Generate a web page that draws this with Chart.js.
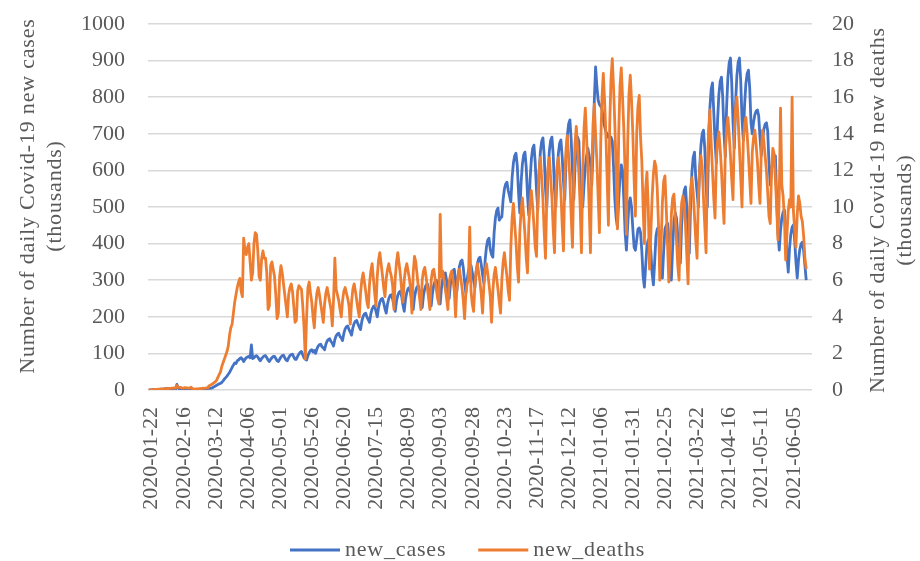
<!DOCTYPE html>
<html>
<head>
<meta charset="utf-8">
<script src="https://cdn.jsdelivr.net/npm/chart.js@4.4.1/dist/chart.umd.min.js"></script>
<style>
  html, body { margin: 0; padding: 0; background: #fff; }
  #wrap { width: 920px; height: 561px; }
</style>
</head>
<body>
<div id="wrap"><canvas id="chart" width="920" height="561"></canvas></div>
<script>
// daily series, first value is 2020-01-22 (thousands)
const startDate = "2020-01-22";
const dayCount = 517;
const labelStep = 25;

const newCases = [
  0.6, 0.1, 0.3, 0.7, 0.8, 0.9, 1.5,
  1.7, 1.9, 2.1, 2.1, 2.6, 3.2, 3.9,
  3.7, 3.2, 3.4, 2.7, 3.0, 2.5, 2.0,
  2.0, 15.1, 6.5, 2.1, 2.0, 2.0, 1.9,
  1.8, 0.5, 0.9, 1.0, 0.6, 0.6, 0.9,
  1.0, 1.3, 1.4, 1.8, 2.2, 1.9, 2.4,
  2.3, 2.8, 3.9, 4.0, 3.9, 4.2, 4.6,
  5, 7, 9, 11, 13, 15, 17,
  18, 21, 25, 30, 34, 38, 43,
  48, 55, 62, 68, 74, 72, 80,
  82, 86, 88, 84, 78, 84, 88,
  90, 92, 88, 123, 86, 88, 92,
  94, 90, 84, 80, 86, 90, 93,
  94, 88, 82, 78, 84, 88, 92,
  92, 86, 80, 78, 84, 90, 94,
  95, 88, 82, 80, 88, 94, 97,
  98, 90, 84, 84, 92, 98, 103,
  105, 96, 88, 84, 82, 94, 102,
  108, 110, 104,
  108, 100, 112, 120, 124, 125, 118,
  115, 110, 125, 134, 138, 140, 132,
  128, 120, 138, 148, 153, 155, 146,
  142, 135, 155, 167, 173, 175, 165,
  158, 150, 170, 182, 188, 190, 180,
  172, 165, 188, 201, 208, 210, 199,
  192, 185, 208, 221, 228, 230,
  215, 200, 225, 240, 248, 250, 238,
  222, 210, 235, 250, 258, 260, 248,
  230, 215, 243, 259, 267, 270, 256,
  232, 215, 248, 267, 277, 280, 264,
  238, 220, 253, 272, 282, 285, 269,
  243, 225, 258, 277, 287, 290, 274,
  248, 230, 265, 286, 297, 300, 283,
  255, 235, 278, 303, 316, 320, 300,
  270, 250, 290, 314, 326, 330,
  295, 270, 312, 338, 351, 355, 334,
  295, 265, 302, 325, 336, 340, 321,
  300, 280, 322, 346, 359, 363, 342,
  315, 292, 354, 390, 409, 415, 384,
  370, 363, 430, 470, 490, 497, 464,
  470, 473, 520, 549, 563, 568, 545,
  530, 514, 580, 620, 640, 647, 614,
  540, 484, 567, 617, 642, 650, 608,
  530, 478, 574, 631, 660, 669, 621,
  545, 492, 590, 650, 679, 689, 640,
  550, 500, 595, 653, 682, 691, 643,
  550, 500, 592, 646, 674, 683, 637,
  570, 520, 629, 694, 727, 738, 684,
  600, 520, 610, 664, 691, 680, 560,
  511, 500, 560, 610, 640, 660, 640,
  620, 560, 650, 790, 883, 830, 792,
  780, 775, 768, 740, 720, 705, 700,
  690, 690, 691, 680, 609, 520, 470,
  445, 520, 580, 615, 600, 520, 430,
  382, 450, 510, 525, 500, 440, 390,
  382, 410, 440, 443, 430, 380, 310,
  281, 340, 395, 410, 415, 380, 320,
  287, 350, 420, 440, 445, 400, 330,
  306, 380, 440, 450, 456, 420, 350,
  300, 390, 460, 484, 470, 420,
  400, 347, 451, 513, 545, 555, 500,
  440, 374, 512, 595, 636, 650, 580,
  540, 500, 605, 668, 700, 710, 660,
  560, 500, 670, 771, 822, 839, 760,
  680, 620, 738, 808, 843, 855, 800,
  700, 637, 772, 853, 894, 907, 840,
  730, 660, 784, 858, 895, 907, 845,
  740, 683, 778, 836, 864, 874, 826,
  730, 700, 732, 752, 762, 765, 749,
  690, 640, 685, 712, 726, 730, 708,
  620, 560, 600, 624, 636, 640, 520,
  430, 382, 437, 470, 486, 492, 440,
  370, 322, 387, 425, 445, 451, 410,
  350, 306, 355, 384, 399, 404, 380,
  340, 300
];

const newDeaths = [
  0.02, 0.01, 0.01, 0.02, 0.02, 0.03, 0.03,
  0.04, 0.04, 0.05, 0.05, 0.06, 0.06, 0.07,
  0.07, 0.07, 0.09, 0.09, 0.1, 0.1, 0.11,
  0.1, 0.25, 0.14, 0.14, 0.14, 0.1, 0.1,
  0.13, 0.12, 0.12, 0.1, 0.1, 0.15, 0.08,
  0.06, 0.04, 0.06, 0.06, 0.06, 0.07, 0.07,
  0.1, 0.09, 0.1, 0.12, 0.11, 0.23, 0.26,
  0.3, 0.35, 0.4, 0.45, 0.55, 0.7, 0.85,
  1.0, 1.3, 1.5, 1.7, 1.9, 2.1, 2.4,
  3.0, 3.4, 3.6, 4.2, 4.8, 5.2, 5.6,
  5.9, 6.1, 5.4, 5.1, 8.3, 7.6, 7.4,
  7.8, 8.0, 7.0, 6.0, 6.4, 8.0, 8.6,
  8.5, 7.6, 6.2, 6.0, 7.2, 7.6, 7.2,
  7.2, 6.4, 4.4, 4.6, 6.8, 7.0, 6.6,
  6.2, 5.2, 3.9, 4.2, 6.2, 6.8, 6.4,
  5.8, 5.2, 4.6, 4.0, 5.2, 5.6, 5.8,
  5.4, 4.6, 3.7, 3.8, 5.4, 5.7, 5.6,
  5.5, 4.6, 3.4, 1.7, 4.0, 5.6, 5.9,
  5.3, 4.8, 4.0,
  3.4, 4.6, 5.3, 5.6, 5.2, 4.7, 4.2,
  3.7, 4.7, 5.3, 5.6, 5.2, 4.8, 4.4,
  3.5, 5.0, 7.2, 5.5, 5.2, 4.9, 4.4,
  4.0, 4.9, 5.4, 5.6, 5.3, 5.0, 4.6,
  3.6, 4.8, 5.5, 5.8, 5.4, 4.9, 4.4,
  4.0, 5.3, 6.0, 6.4, 5.9, 5.4, 4.8,
  4.5, 5.8, 6.5, 6.9, 6.1, 5.3,
  4.6, 6.2, 7.1, 7.5, 6.9, 6.3, 5.6,
  5.1, 6.1, 6.6, 6.9, 6.5, 6.2, 5.7,
  4.4, 6.1, 7.0, 7.5, 6.9, 6.3, 5.5,
  4.8, 6.0, 6.6, 6.9, 6.5, 6.1, 5.5,
  4.2, 6.4, 7.3, 7.0, 6.3, 5.6, 5.0,
  4.4, 6.0, 6.5, 6.7, 6.2, 5.6, 5.0,
  4.4, 6.0, 6.5, 6.6, 6.1, 5.5, 5.0,
  4.7, 9.6, 6.2, 6.5, 6.0, 5.5, 5.0,
  4.4, 5.9, 6.3, 6.5, 6.0, 5.4,
  4.0, 5.6, 6.3, 6.6, 6.1, 5.6, 4.9,
  3.9, 5.3, 5.8, 6.0, 8.9, 5.4, 4.7,
  4.3, 5.7, 6.5, 6.9, 6.4, 5.9, 5.2,
  4.2, 5.7, 6.5, 6.9, 6.4, 5.8, 5.1,
  3.7, 5.4, 6.3, 6.7, 6.1, 5.5, 4.8,
  4.2, 6.0, 7.0, 7.5, 6.8, 6.2, 5.4,
  4.9, 7.8, 9.4, 10.2, 9.1, 8.1, 6.8,
  5.9, 8.6, 9.8, 10.5, 9.5, 8.5, 7.2,
  6.4, 9.0, 10.3, 10.9, 10.0, 9.0, 7.8,
  7.3, 10.5, 12.0, 12.7, 11.6, 10.4, 8.6,
  7.2, 10.5, 12.2, 12.7, 11.6, 10.5, 8.8,
  7.5, 10.8, 12.2, 12.7, 11.8, 10.8, 9.0,
  7.6, 11.5, 13.2, 13.9, 12.8, 11.5, 9.5,
  7.8, 11.5, 13.5, 14.4, 13.2, 11.8, 10.0,
  7.5, 12.0, 14.3, 15.4, 13.8, 12.2, 10.0,
  7.5, 12.0, 14.5, 15.6, 14.0, 12.5, 10.5,
  8.6, 13.5, 16.0, 17.3, 15.8, 14.0, 11.5,
  9.0, 14.5, 17.0, 18.1, 16.5, 14.5, 12.0,
  8.8, 14.0, 16.6, 17.6, 16.0, 14.2, 11.8,
  8.5, 13.5, 16.2, 17.2, 15.8, 14.0, 11.5,
  9.5, 14.0, 15.5, 16.1, 13.8, 12.5, 10.0,
  8.0, 11.0, 11.9, 10.0, 6.6, 8.5, 10.5,
  11.8, 12.5, 12.2, 11.0, 9.0, 6.0,
  8.0, 10.2, 11.4, 11.7, 10.0, 8.0, 5.9,
  7.5, 9.6, 10.5, 10.7, 9.6, 8.2, 6.8,
  6.0, 8.9, 10.2, 10.6, 10.2, 9.0, 7.4,
  5.8, 9.5, 11.0, 11.6, 10.8, 9.5, 8.2,
  7.2, 10.5, 12.0, 12.8, 12.2, 10.5, 9.0,
  7.5, 12.0, 14.2, 15.3, 13.5, 12.0, 10.5,
  9.4, 12.5, 13.6, 14.1, 13.2, 12.0, 10.5,
  9.1, 13.0, 14.3, 14.9, 14.0, 12.8, 11.5,
  10.4, 14.0, 15.4, 16.0, 14.8, 13.2, 11.6,
  10.0, 13.5, 14.5, 14.9, 14.0, 12.8, 11.5,
  10.2, 13.0, 13.8, 14.2, 13.4, 12.5, 11.2,
  10.2, 13.0, 14.2, 13.6, 12.8, 12.0, 10.8,
  9.5, 9.1, 12.0, 13.2, 12.9, 11.5, 10.0,
  8.2, 10.6, 15.4, 11.2, 10.6, 9.4, 7.1,
  8.5, 9.8, 10.4, 10.0, 16.0, 9.8, 8.8,
  7.8, 9.6, 10.6, 10.2, 9.5, 9.2, 8.4,
  7.2, 6.6
];

const seriesNames = ["new_cases", "new_deaths"];
const seriesColors = ["#4472C4", "#ED7D31"];
const leftTitle = ["Number of daily Covid-19 new cases", "(thousands)"];
const rightTitle = ["Number of daily Covid-19 new deaths", "(thousands)"];

const textColor = "#595959";
const serif = "'Liberation Serif', 'Times New Roman', serif";

// category labels, one per day
const dates = [];
const t0 = Date.parse(startDate + "T00:00:00Z");
for (let i = 0; i < dayCount; i++) {
  dates.push(new Date(t0 + i * 86400000).toISOString().slice(0, 10));
}

// axis titles (rotated upward on both sides) and the legend
const extras = {
  id: "extras",
  afterDraw(chart) {
    const ctx = chart.ctx;
    ctx.save();
    ctx.fillStyle = textColor;
    ctx.font = "22px " + serif;
    ctx.letterSpacing = "0.8px";
    ctx.textAlign = "center";
    ctx.textBaseline = "middle";

    const drawUp = (lines, xs, cy) => {
      lines.forEach((txt, i) => {
        ctx.save();
        ctx.translate(xs[i], cy);
        ctx.rotate(-Math.PI / 2);
        ctx.fillText(txt, 0, 0);
        ctx.restore();
      });
    };
    drawUp(leftTitle, [28, 55], 196);
    drawUp(rightTitle, [878, 905], 210);

    // legend
    ctx.letterSpacing = "0.8px";
    ctx.textAlign = "left";
    let x = 290;
    const y = 550;
    seriesNames.forEach((name, i) => {
      ctx.strokeStyle = seriesColors[i];
      ctx.lineWidth = 3;
      ctx.beginPath();
      ctx.moveTo(x, y);
      ctx.lineTo(x + 50, y);
      ctx.stroke();
      ctx.fillText(name, x + 55, y);
      x += 55 + ctx.measureText(name).width + 32;
    });
    ctx.restore();
  }
};

const tickFont = { family: serif, size: 22 };

new Chart(document.getElementById("chart"), {
  type: "line",
  data: {
    labels: dates,
    datasets: [
      {
        label: seriesNames[0],
        data: newCases,
        yAxisID: "y",
        borderColor: seriesColors[0],
        backgroundColor: seriesColors[0],
        borderWidth: 2.8,
        pointRadius: 0,
        tension: 0,
        borderJoinStyle: "round",
        order: 1
      },
      {
        label: seriesNames[1],
        data: newDeaths,
        yAxisID: "y1",
        borderColor: seriesColors[1],
        backgroundColor: seriesColors[1],
        borderWidth: 2.8,
        pointRadius: 0,
        tension: 0,
        borderJoinStyle: "round",
        order: 0
      }
    ]
  },
  options: {
    responsive: false,
    animation: false,
    devicePixelRatio: 1,
    layout: { padding: { top: 24, left: 0, right: 0, bottom: 0 } },
    plugins: {
      legend: { display: false },
      tooltip: { enabled: false }
    },
    scales: {
      x: {
        type: "category",
        offset: true,
        grid: { display: false, drawTicks: false },
        border: { display: false },
        ticks: {
          autoSkip: false,
          minRotation: 90,
          maxRotation: 90,
          padding: 17,
          labelOffset: 3,
          color: textColor,
          font: tickFont,
          callback(value, index) {
            return index % labelStep === 0 ? this.getLabelForValue(value) : null;
          }
        },
        afterFit(scale) { scale.height = 171; }
      },
      y: {
        position: "left",
        min: 0,
        max: 1000,
        ticks: {
          stepSize: 100, padding: 0, color: textColor, font: tickFont,
          callback: (v) => String(v)
        },
        // invisible tick marks keep the labels away from the plot
        grid: { color: "#d9d9d9", lineWidth: 1.5, drawTicks: true, tickLength: 23, tickColor: "rgba(0,0,0,0)" },
        border: { display: false },
        afterFit(scale) { scale.width = 148; }
      },
      y1: {
        position: "right",
        min: 0,
        max: 20,
        ticks: {
          stepSize: 2, padding: 0, color: textColor, font: tickFont,
          callback: (v) => String(v)
        },
        grid: { drawOnChartArea: false, drawTicks: true, tickLength: 20, tickColor: "rgba(0,0,0,0)" },
        border: { display: false },
        afterFit(scale) { scale.width = 108; }
      }
    }
  },
  plugins: [extras]
});
</script>
</body>
</html>
